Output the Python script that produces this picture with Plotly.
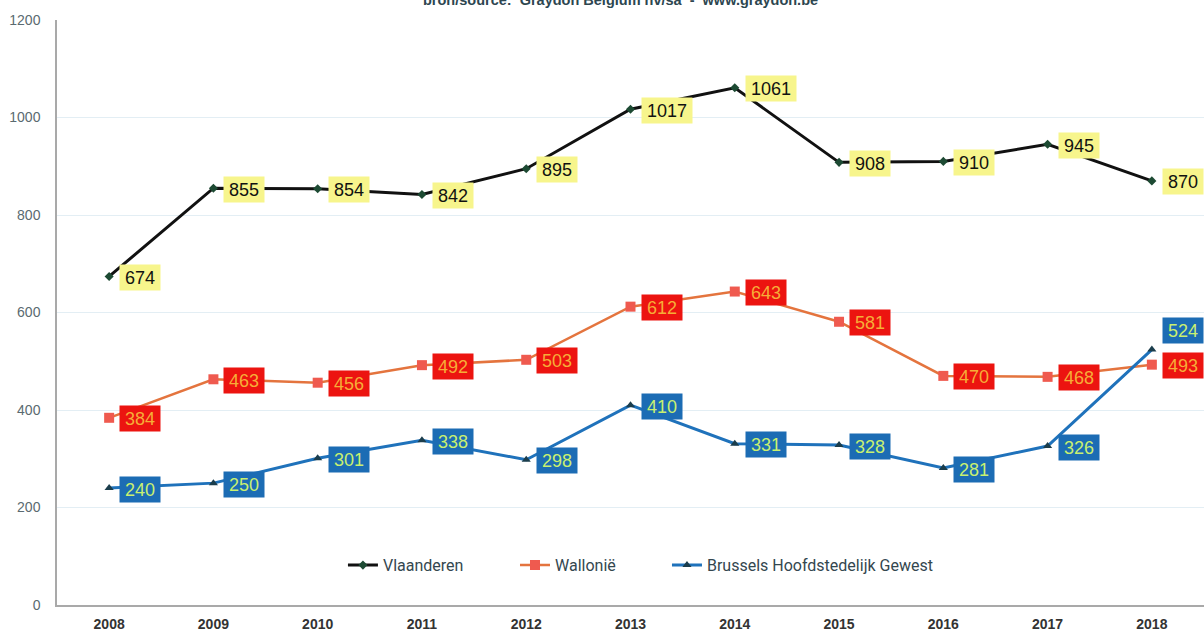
import plotly.graph_objects as go

years = ["2008", "2009", "2010", "2011", "2012", "2013", "2014", "2015", "2016", "2017", "2018"]
vlaanderen = [674, 855, 854, 842, 895, 1017, 1061, 908, 910, 945, 870]
wallonie = [384, 463, 456, 492, 503, 612, 643, 581, 470, 468, 493]
brussel = [240, 250, 301, 338, 298, 410, 331, 328, 281, 326, 524]
series_names = ["Vlaanderen", "Wallonië", "Brussels Hoofdstedelijk Gewest"]
y_ticks = [0, 200, 400, 600, 800, 1000, 1200]
source_text = "bron/source:  Graydon Belgium nv/sa  -  www.graydon.be"

xs = list(range(len(years)))

fig = go.Figure()
fig.add_trace(go.Scatter(
    x=xs, y=vlaanderen, name=series_names[0], mode="lines+markers", legend="legend",
    line=dict(color="#111111", width=3),
    marker=dict(symbol="diamond", size=7, color="#1d4a33"),
))
fig.add_trace(go.Scatter(
    x=xs, y=wallonie, name=series_names[1], mode="lines+markers", legend="legend2",
    line=dict(color="#e4743e", width=2.5),
    marker=dict(symbol="square", size=10, color="#ef5a4f"),
))
fig.add_trace(go.Scatter(
    x=xs, y=brussel, name=series_names[2], mode="lines+markers", legend="legend3",
    line=dict(color="#1f72bb", width=3),
    marker=dict(symbol="triangle-up", size=8, color="#1b3d4c"),
))

styles = [
    (vlaanderen, "#f7f58c", "#111111", False),
    (wallonie, "#ec1410", "#f6ad38", False),
    (brussel, "#1c6cb4", "#c9f070", True),
]
annotations = []
for vals, bg, fg, last_above in styles:
    for i, (x, v) in enumerate(zip(xs, vals)):
        above = last_above and i == len(vals) - 1
        label = str(v)
        annotations.append(dict(
            x=x, y=v, xref="x", yref="y", text=label, showarrow=False,
            xanchor="left", yanchor="middle", xshift=10, yshift=19 if above else -1,
            bgcolor=bg, borderpad=2, width=10 * len(label) + 6, height=21, align="center",
            font=dict(family="Liberation Sans, Arial", size=18, color=fg),
        ))

annotations.append(dict(
    x=0.491, y=1 + 20 / 585, xref="paper", yref="paper", text="<b>" + source_text + "</b>",
    showarrow=False, xanchor="center", yanchor="middle",
    font=dict(family="Liberation Sans, Arial", size=14.5, color="#2d4650"),
))

legend_style = dict(
    orientation="h", y=0.068, xanchor="left", yanchor="middle",
    font=dict(family="Roboto, Liberation Sans", size=16, color="#34474f"),
    bgcolor="rgba(0,0,0,0)", itemwidth=30,
)

fig.update_layout(
    width=1204, height=633,
    margin=dict(l=57, r=0, t=20, b=28, autoexpand=False),
    paper_bgcolor="white", plot_bgcolor="white",
    showlegend=True,
    legend=dict(x=0.2493, **legend_style),
    legend2=dict(x=0.3993, **legend_style),
    legend3=dict(x=0.5318, **legend_style),
    annotations=annotations,
    xaxis=dict(
        range=[-0.5, 10.5], tickmode="array", tickvals=xs, ticktext=years,
        showgrid=False, zeroline=False, showline=True, linecolor="#a9a9a9", linewidth=1.5,
        ticks="", ticklabelstandoff=5, automargin=False,
        tickfont=dict(family="Liberation Sans, Arial", size=14, color="#333333", weight="bold"),
    ),
    yaxis=dict(
        range=[0, 1200], tickmode="array", tickvals=y_ticks, automargin=False,
        showgrid=True, gridcolor="#e3eef4", gridwidth=1, zeroline=False,
        showline=True, linecolor="#a9a9a9", linewidth=1.5, ticks="",
        tickfont=dict(family="Liberation Sans, Arial", size=14, color="#5a6a70"),
        ticklabelstandoff=12,
    ),
)

fig.write_html("out.html")
